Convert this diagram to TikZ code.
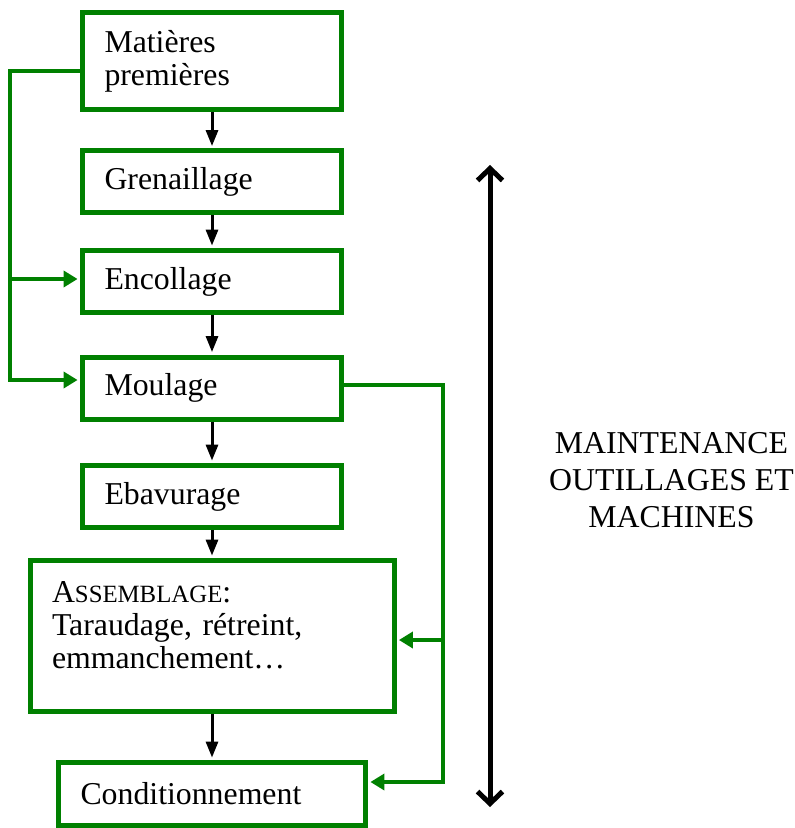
\documentclass[tikz,border=0pt]{standalone}
\usepackage{fontspec}
\setmainfont{Liberation Serif}
\usetikzlibrary{arrows.meta}
\definecolor{vert}{RGB}{0,128,0}
\tikzset{
  etape/.style={draw=vert, line width=2.5pt, rectangle, inner xsep=11pt, inner ysep=1pt,
    align=left, text width=107.5pt, minimum height=31pt},
  flux/.style={-{Triangle[length=8pt,width=6pt]}, line width=1.5pt, shorten >=1.2pt},
  retour/.style={draw=vert, line width=2pt, -{Triangle[length=7pt,width=8pt]}, shorten >=1.2pt}
}
\newcommand{\petitcap}[1]{{\fontsize{12.4}{16.5}\selectfont #1}}
\begin{document}
\begin{tikzpicture}[x=0.5pt,y=-0.5pt,font=\fontsize{15.9}{16.5}\selectfont]
  \useasboundingbox (0,0) rectangle (795,828);
  % les etapes
  \node[etape, minimum height=48.5pt] (mat) at (212,61.5) {Matières\\premières};
  \node[etape] (gren) at (212,182) {Grenaillage};
  \node[etape] (enc) at (212,281.5) {Encollage};
  \node[etape] (moul) at (212,388) {Moulage};
  \node[etape] (ebav) at (212,496.5) {Ebavurage};
  \node[etape, text width=160pt, minimum height=75.5pt, text depth=44pt] (ass) at (212,636)
    {A\petitcap{SSEMBLAGE}:\\Taraudage, rétreint,\\emmanchement…};
  \node[etape, text width=131.5pt, minimum height=31.5pt] (cond) at (212,794) {Conditionnement};
  \draw[flux] (mat) -- (gren);
  \draw[flux] (gren) -- (enc);
  \draw[flux] (enc) -- (moul);
  \draw[flux] (moul) -- (ebav);
  \draw[flux] (ebav) -- (ass);
  \draw[flux] (ass) -- (cond);
  % retours a gauche
  \coordinate (g0) at (10,71);
  \coordinate (g1) at (10,279);
  \coordinate (g2) at (10,380);
  \draw[retour] (mat.west |- g0) -- (g0) -- (g2) -- (moul.west |- g2);
  \draw[retour] (g1) -- (enc.west |- g1);
  % retours a droite
  \coordinate (d0) at (443,385);
  \coordinate (d1) at (443,640);
  \coordinate (d2) at (443,782);
  \draw[retour] (moul.east |- d0) -- (d0) -- (d2) -- (cond.east |- d2);
  \draw[retour] (d1) -- (ass.east |- d1);
  % maintenance
  \coordinate (haut) at (490,165);
  \coordinate (bas) at (490,807);
  \draw[line width=2.5pt, {Straight Barb[length=6pt,width=12.5pt]}-{Straight Barb[length=6pt,width=12.5pt]}] (haut) -- (bas);
  \node[align=center, font=\fontsize{15.9}{18.5}\selectfont] (maint) at (671.5,480)
    {MAINTENANCE\\OUTILLAGES ET\\MACHINES};
\end{tikzpicture}
\end{document}
